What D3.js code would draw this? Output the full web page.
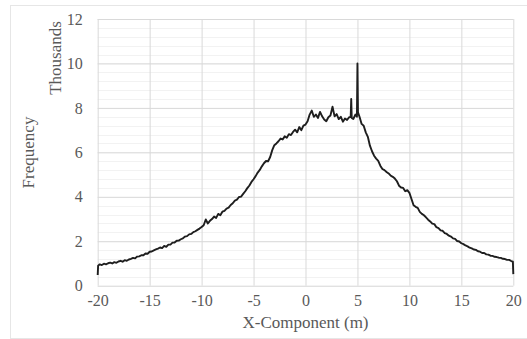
<!DOCTYPE html>
<html>
<head>
<meta charset="utf-8">
<script src="https://cdn.jsdelivr.net/npm/d3@7"></script>
<style>
    body { margin: 0; background: #fff; }
    svg text { font-family: "Liberation Serif", "Times New Roman", serif !important; fill: #595959; }
</style>
</head>
<body>
<svg width="527" height="339"></svg>
<script>
// x positions of the histogram bins (m)
const xValues = [
    -20.0, -19.96, -19.8, -19.6, -19.4, -19.2, -19.0, -18.8, -18.6, -18.4, -18.2,
    -18.0, -17.8, -17.6, -17.4, -17.2, -17.0, -16.8, -16.6, -16.4, -16.2,
    -16.0, -15.8, -15.6, -15.4, -15.2, -15.0, -14.8, -14.6, -14.4, -14.2,
    -14.0, -13.8, -13.6, -13.4, -13.2, -13.0, -12.8, -12.6, -12.4, -12.2,
    -12.0, -11.8, -11.6, -11.4, -11.2, -11.0, -10.8, -10.6, -10.4, -10.2,
    -10.0, -9.8, -9.6, -9.4, -9.2, -9.0, -8.8, -8.6, -8.4, -8.2,
    -8.0, -7.8, -7.6, -7.4, -7.2, -7.0, -6.8, -6.6, -6.4, -6.2,
    -6.0, -5.8, -5.6, -5.4, -5.2, -5.0, -4.8, -4.6, -4.4, -4.2,
    -4.0, -3.8, -3.6, -3.4, -3.2, -3.0, -2.8, -2.6, -2.4, -2.2,
    -2.0, -1.8, -1.6, -1.4, -1.2, -1.0, -0.8, -0.6, -0.4, -0.2,
    0.0, 0.2, 0.4, 0.6, 0.8, 1.0, 1.2, 1.4, 1.6, 1.8,
    2.0, 2.2, 2.4, 2.6, 2.8, 3.0, 3.2, 3.4, 3.6, 3.8,
    4.0, 4.2, 4.35, 4.4, 4.45, 4.6, 4.8, 4.95, 5.0, 5.05, 5.2, 5.4, 5.6, 5.8,
    6.0, 6.2, 6.4, 6.6, 6.8, 7.0, 7.2, 7.4, 7.6, 7.8,
    8.0, 8.2, 8.4, 8.6, 8.8, 9.0, 9.2, 9.4, 9.6, 9.8,
    10.0, 10.2, 10.4, 10.6, 10.8, 11.0, 11.2, 11.4, 11.6, 11.8,
    12.0, 12.2, 12.4, 12.6, 12.8, 13.0, 13.2, 13.4, 13.6, 13.8,
    14.0, 14.2, 14.4, 14.6, 14.8, 15.0, 15.2, 15.4, 15.6, 15.8,
    16.0, 16.2, 16.4, 16.6, 16.8, 17.0, 17.2, 17.4, 17.6, 17.8,
    18.0, 18.2, 18.4, 18.6, 18.8, 19.0, 19.2, 19.4, 19.6, 19.8,
    19.96, 20.0
];

// frequency counts per bin
const frequency = [
    480, 900, 960, 930, 990, 960, 1010, 1040, 1000, 1060, 1030,
    1090, 1120, 1080, 1150, 1120, 1180, 1210, 1250, 1230, 1310,
    1320, 1370, 1370, 1450, 1440, 1530, 1540, 1590, 1630, 1670,
    1720, 1690, 1790, 1750, 1850, 1850, 1940, 1940, 2020, 2030,
    2090, 2130, 2210, 2230, 2310, 2330, 2410, 2450, 2510, 2570,
    2640, 2720, 2980, 2800, 2920, 3000, 3110, 3050, 3230, 3170,
    3330, 3370, 3470, 3510, 3630, 3710, 3830, 3870, 3990, 4010,
    4130, 4250, 4390, 4510, 4670, 4790, 4930, 5090, 5210, 5370,
    5510, 5610, 5600, 5790, 6100, 6320, 6400, 6500, 6620, 6580,
    6720, 6660, 6820, 6780, 6920, 7020, 6900, 7140, 7000, 7200,
    7250, 7400, 7700, 7880, 7600, 7700, 7550, 7820, 7620, 7480,
    7400, 7580, 7660, 8050, 7620, 7720, 7500, 7600, 7380, 7520,
    7460, 7580, 7600, 8400, 7550, 7500, 7700, 7600, 10000, 7800, 7600, 7280, 7200, 6900,
    6700, 6300, 6050, 5850, 5720, 5620, 5400, 5250, 5200, 5120,
    5050, 4950, 4900, 4820, 4700, 4500, 4420, 4400, 4250, 4300,
    4180, 3900, 3620, 3550, 3500, 3320, 3230, 3170, 3070, 2970,
    2890, 2790, 2770, 2630, 2590, 2490, 2470, 2370, 2330, 2250,
    2210, 2130, 2110, 2010, 1990, 1910, 1870, 1810, 1770, 1710,
    1680, 1630, 1610, 1550, 1530, 1470, 1470, 1410, 1400, 1350,
    1340, 1300, 1290, 1260, 1250, 1210, 1200, 1160, 1160, 1110,
    1080, 520
];

const xTicks = [-20, -15, -10, -5, 0, 5, 10, 15, 20];
const yTicks = [0, 2000, 4000, 6000, 8000, 10000, 12000];
const yMinorTicks = d3.range(0, 12001, 400);

const svg = d3.select("svg");

const plot = { left: 97.7, right: 513.3, top: 19, bottom: 285.7 };

const xScale = d3.scaleLinear().domain([-20, 20]).range([plot.left, plot.right]);
const yScale = d3.scaleLinear().domain([0, 12000]).range([plot.bottom, plot.top]);

// chart area border
svg.append("rect")
    .attr("x", 10.5)
    .attr("y", 5.5)
    .attr("width", 540)
    .attr("height", 333)
    .attr("fill", "none")
    .attr("stroke", "#e6e6e6");

// minor horizontal gridlines
svg.append("g")
    .selectAll("line")
    .data(yMinorTicks)
    .join("line")
    .attr("x1", plot.left)
    .attr("x2", plot.right)
    .attr("y1", (d) => Math.round(yScale(d)) + 0.5)
    .attr("y2", (d) => Math.round(yScale(d)) + 0.5)
    .attr("stroke", "#f2f2f2");

// major horizontal gridlines
svg.append("g")
    .attr("class", "y-grid")
    .attr("transform", `translate(${plot.left}, 0)`)
    .call(d3.axisLeft(yScale).tickValues(yTicks).tickSize(-(plot.right - plot.left)).tickFormat(""))
    .call((g) => g.select(".domain").remove())
    .call((g) => g.selectAll("line").attr("stroke", "#d9d9d9"));

// vertical gridlines
svg.append("g")
    .attr("class", "x-grid")
    .attr("transform", `translate(0, ${plot.bottom})`)
    .call(d3.axisBottom(xScale).tickValues(xTicks).tickSize(-(plot.bottom - plot.top)).tickFormat(""))
    .call((g) => g.select(".domain").remove())
    .call((g) => g.selectAll("line").attr("stroke", "#d9d9d9"));

// x tick labels (plain hyphen for negatives)
svg.append("g")
    .attr("transform", `translate(0, ${plot.bottom})`)
    .call(d3.axisBottom(xScale).tickValues(xTicks).tickSize(0).tickPadding(9)
        .tickFormat((d) => String(d)))
    .call((g) => g.select(".domain").remove())
    .call((g) => g.attr("font-family", null).attr("font-size", null))
    .call((g) => g.selectAll("text").style("font-size", "16px"));

// y tick labels in thousands
svg.append("g")
    .attr("transform", `translate(${plot.left}, 0)`)
    .call(d3.axisLeft(yScale).tickValues(yTicks).tickSize(0).tickPadding(15)
        .tickFormat((d) => String(d / 1000)))
    .call((g) => g.select(".domain").remove())
    .call((g) => g.attr("font-family", null).attr("font-size", null))
    .call((g) => g.selectAll("text").style("font-size", "16px"));

// axis titles
svg.append("text")
    .attr("x", (plot.left + plot.right) / 2)
    .attr("y", 328)
    .attr("text-anchor", "middle")
    .style("font-size", "17px")
    .text("X-Component (m)");

svg.append("text")
    .attr("transform", "translate(34, 152.5) rotate(-90)")
    .attr("text-anchor", "middle")
    .style("font-size", "17px")
    .text("Frequency");

svg.append("text")
    .attr("transform", "translate(61, 58) rotate(-90)")
    .attr("text-anchor", "middle")
    .style("font-size", "17px")
    .text("Thousands");

// frequency line
const line = d3.line()
    .x((d, i) => xScale(xValues[i]))
    .y((d) => yScale(d));

svg.append("path")
    .datum(frequency)
    .attr("d", line)
    .attr("fill", "none")
    .attr("stroke", "#1e1e1e")
    .attr("stroke-width", 1.9)
    .attr("stroke-linejoin", "round");
</script>
</body>
</html>
